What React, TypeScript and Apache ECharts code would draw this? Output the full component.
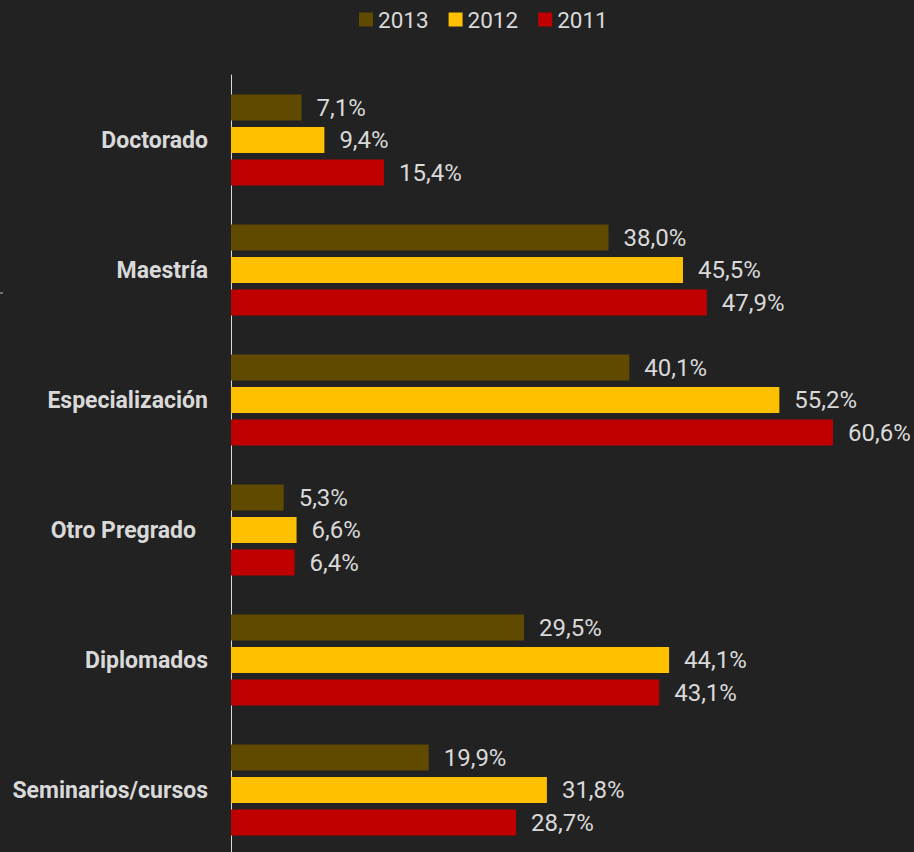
import React, { useEffect, useRef } from "react";
import * as echarts from "echarts";

const categories = ["Doctorado", "Maestría", "Especialización", "Otro Pregrado", "Diplomados", "Seminarios/cursos"];
const years = ["2013", "2012", "2011"];
const values2013 = [7.1, 38.0, 40.1, 5.3, 29.5, 19.9];
const values2012 = [9.4, 45.5, 55.2, 6.6, 44.1, 31.8];
const values2011 = [15.4, 47.9, 60.6, 6.4, 43.1, 28.7];
const colors = ["#604A00", "#FFC000", "#C00000"];

const FONT = "Roboto, 'Liberation Sans', sans-serif";

export default function App() {
  const ref = useRef<HTMLDivElement>(null);
  useEffect(() => {
    if (!ref.current) return;
    const chart = echarts.init(ref.current, null, { renderer: "svg" });
    const seriesData = [values2013, values2012, values2011];
    chart.setOption({
      animation: false,
      backgroundColor: "#222222",
      legend: {
        data: years,
        left: 359,
        top: 8,
        padding: 0,
        itemWidth: 14,
        itemHeight: 14,
        itemGap: 20,
        icon: "rect",
        textStyle: { color: "#D9D9D9", fontSize: 22.5, fontFamily: FONT },
      },
      grid: { left: 231, top: 75, height: 780, width: 645.7, outerBoundsMode: "none", containLabel: false },
      xAxis: {
        type: "value",
        min: 0,
        max: 65,
        show: false,
      },
      yAxis: {
        type: "category",
        data: categories,
        inverse: true,
        axisLine: { show: true, lineStyle: { color: "#D9D9D9", width: 1 } },
        axisTick: { show: false },
        axisLabel: {
          margin: 23,
          color: "#D9D9D9",
          fontSize: 23,
          fontWeight: "bold",
          fontFamily: FONT,
          formatter: (v: string) => (v === "Otro Pregrado" ? "{pad|" + v + "}" : v),
          rich: {
            pad: {
              color: "#D9D9D9",
              fontSize: 23,
              fontWeight: "bold",
              fontFamily: FONT,
              padding: [0, 12, 0, 0],
            },
          },
        },
        splitLine: { show: false },
      },
      series: years.map((y, i) => ({
        name: y,
        type: "bar",
        data: seriesData[i],
        barWidth: 26,
        barGap: "25%",
        itemStyle: { color: colors[i] },
        label: {
          show: true,
          position: "right",
          distance: 15,
          color: "#D9D9D9",
          fontSize: 24,
          fontFamily: FONT,
          formatter: (p: any) => p.value.toFixed(1).replace(".", ",") + "%",
        },
      })),
      graphic: [
        {
          type: "line",
          shape: { x1: 0, y1: 293, x2: 3, y2: 293 },
          style: { stroke: "#BFBFBF", lineWidth: 1 },
        },
      ],
    });
    return () => chart.dispose();
  }, []);
  return <div ref={ref} style={{ width: 914, height: 852, position: "fixed", left: 0, top: 0 }} />;
}
